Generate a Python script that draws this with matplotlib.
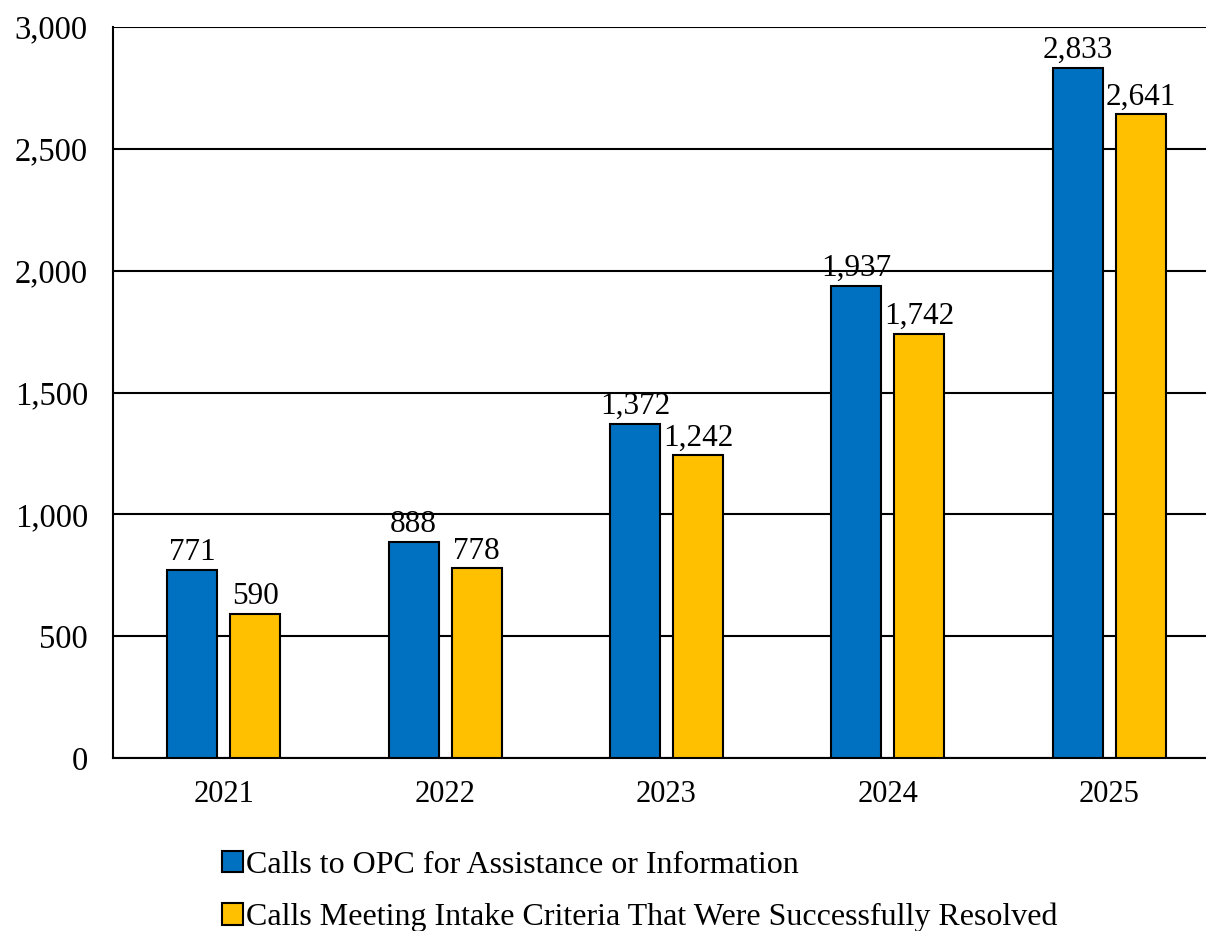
import matplotlib.pyplot as plt
import numpy as np
from matplotlib.ticker import FuncFormatter

plt.rcParams['font.family'] = ['Liberation Serif', 'DejaVu Serif']

years = ['2021', '2022', '2023', '2024', '2025']
calls_total = [771, 888, 1372, 1937, 2833]
calls_resolved = [590, 778, 1242, 1742, 2641]
series_names = ['Calls to OPC for Assistance or Information',
                'Calls Meeting Intake Criteria That Were Successfully Resolved']

blue = '#0070C0'
yellow = '#FFC000'

fig = plt.figure(figsize=(12.06, 9.31), dpi=100)
# axes runs a bit past the right edge of the image, as in the original
ax = fig.add_axes([113 / 1206, 1 - 758 / 931, 1107 / 1206, (758 - 27) / 931])

x = np.arange(len(years))
w = 0.226
off = 0.142
b1 = ax.bar(x - off, calls_total, w, color=blue, edgecolor='black', linewidth=1.5,
            label=series_names[0], zorder=3)
b2 = ax.bar(x + off, calls_resolved, w, color=yellow, edgecolor='black', linewidth=1.5,
            label=series_names[1], zorder=3)

fmt = lambda v: f'{v:,.0f}'
ax.bar_label(b1, labels=[fmt(v) for v in calls_total], padding=2, fontsize=22.5)
ax.bar_label(b2, labels=[fmt(v) for v in calls_resolved], padding=2, fontsize=22.5)

ax.set_xlim(-0.5, 4.5)
ax.set_ylim(0, 3000)
ax.set_yticks(np.arange(0, 3001, 500))
ax.yaxis.set_major_formatter(FuncFormatter(lambda v, p: f'{v:,.0f}'))
ax.set_xticks(x)
ax.set_xticklabels(years)
ax.tick_params(axis='x', length=0, labelsize=22, pad=16)
ax.tick_params(axis='y', length=0, labelsize=23.5, pad=18)
ax.grid(axis='y', color='black', linewidth=1.5, zorder=0)
ax.set_axisbelow(True)
for s in ['top', 'right']:
    ax.spines[s].set_visible(False)
ax.spines['left'].set_linewidth(1.5)
ax.spines['bottom'].set_linewidth(1.5)

fig.legend(loc='upper left', bbox_to_anchor=(209 / 1206, 1 - 838 / 931), ncol=1,
           frameon=False, fontsize=23, handlelength=0.65, handleheight=0.65,
           handletextpad=0.12, labelspacing=0.72, borderaxespad=0)

fig.savefig('out.png', dpi=100)
